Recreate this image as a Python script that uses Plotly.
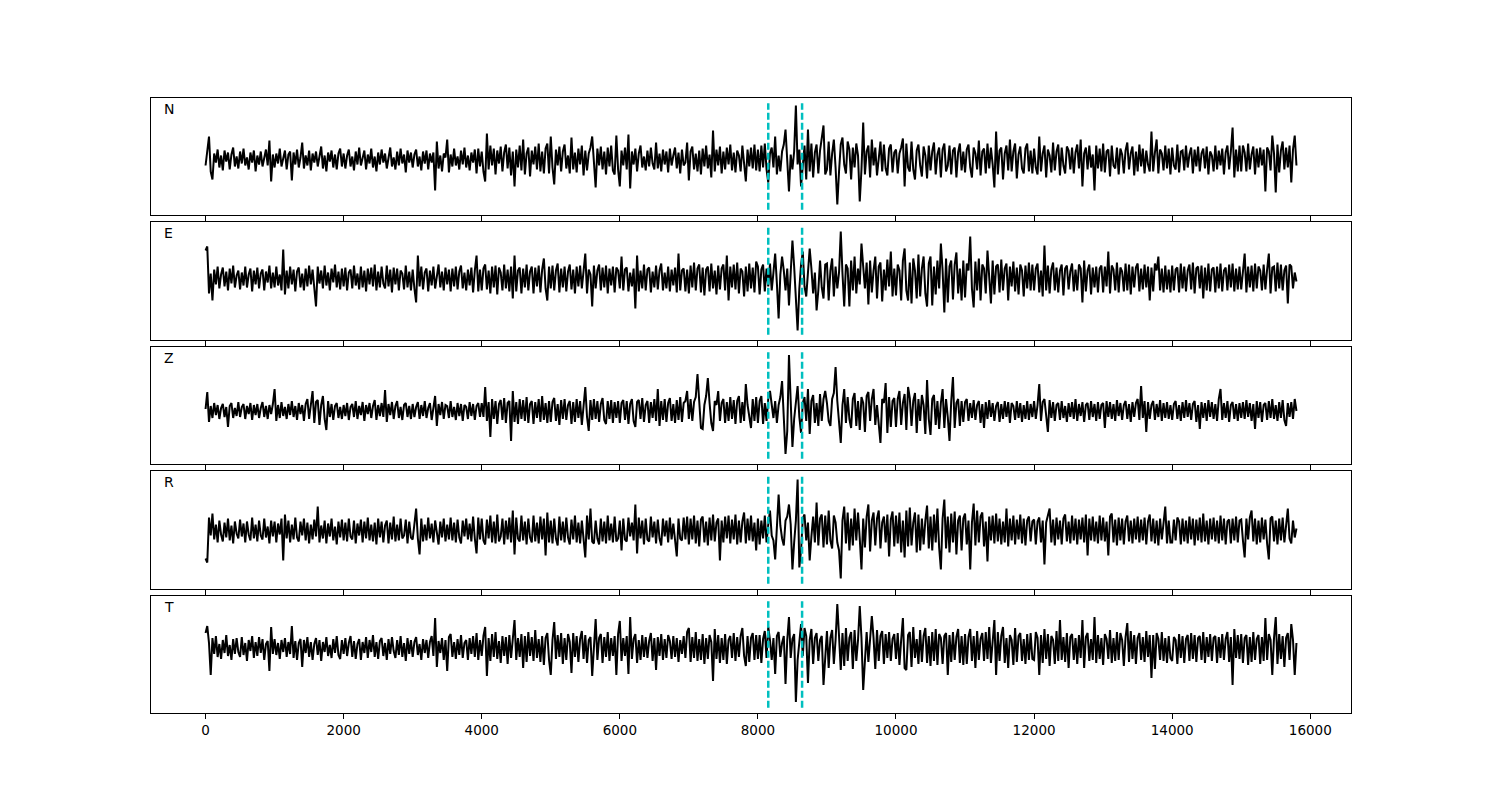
import numpy as np
import plotly.graph_objects as go

# ---------------- data (amplitudes, arbitrary units) ----------------
DT = 25
PICKS = [8150, 8640]         # dashed phase markers
COMPONENTS = ["N", "E", "Z", "R", "T"]
TICKS = [0, 2000, 4000, 6000, 8000, 10000, 12000, 14000, 16000]

N_VALUES = [
    -6, 8, 23, -12, -20, 6, -3, 10, -8, 4, -11, 9, -2, 7, -10, 5, 12, -7, 3, -9, 8, -4, 11, -6, 2, -10, 7, -3, 9, -12, 4, -5, 8, -7, 3, 10, -6, 19, -22, 5,
    -8, 6, -4, 11, -7, 3, 9, -10, 5, 8, -21, 7, -5, 10, -8, 2, 17, -9, 4, -6, 9, -11, 6, -3, 8, -7, 5, 13, -9, 4, -12, 7, -2, 9, -8, 5, -10, 6, 11, -7,
    6, -9, 4, 10, -7, 3, -11, 8, -5, 12, -6, 2, 9, -10, 5, -4, 11, -8, 3, -12, 7, -5, 10, -3, 6, -9, 4, 12, -7, 2, -10, 8, -6, 11, -4, 5, -13, 9, -3, 7,
    -8, 5, 10, -7, 3, -11, 8, -4, 9, -10, 6, -3, 7, -31, 18, -9, 4, -12, 6, 2, 20, -13, 5, -7, 11, -6, 3, -10, 9, -5, 12, -8, 4, -11, 7, -3, 10, -14, 11, -7,
    8, -12, -22, 26, -10, 14, -6, 11, -15, 9, -4, 13, -12, 7, 15, -9, 12, -16, 8, -27, 10, -8, 14, -11, 20, -15, 6, 12, -17, 9, -5, 13, -10, 16, -12, 8, -14, 11, 16, -14,
    23, -8, -25, 10, -6, 13, -12, 8, 15, -9, 4, -14, 22, -10, 7, -13, 11, -5, 14, -16, 9, -11, 6, 12, 23, -9, -28, 11, -6, 13, -10, 8, -15, 12, -7, 14, -11, -15, 24, -10,
    -27, 9, -6, 12, -10, 25, -29, 8, -5, 11, -12, 6, 14, -8, 3, -11, 9, -7, 12, -4, -10, 17, -9, 6, -12, 10, -5, 8, -13, 11, -6, 4, 12, -9, 7, -14, 10, -6, -3, 17,
    -21, 8, 13, -10, 6, -12, 9, -15, 11, -7, 14, -9, 5, -18, 29, -12, 10, -6, 13, -14, 8, -10, 12, -5, 15, -11, 7, -13, 9, 4, -12, 14, -8, -22, 10, -7, 12, -9, 15, -11,
    10, -12, 14, -8, 16, -10, -23, 6, 12, -8, 23, -15, 4, -12, 8, 15, 30, -6, -32, 5, -10, 8, 54, -5, 10, -27, -8, 14, -20, 30, -12, 16, -18, 7, 15, -14, 9, 20, 34, -15,
    -10, 18, -16, 6, 20, -8, -45, -12, 15, 22, -5, -14, 18, 10, -20, 12, -8, 16, 4, -42, -10, 37, -15, 8, 14, -18, 20, -6, 12, -16, 5, 18, -12, 15, -9, -16, 11, 15, -13, 7,
    10, -14, 6, 12, 21, -27, 16, -8, -12, 18, -10, -20, 9, 15, -6, -17, 13, 4, -19, 14, -11, 8, 17, -15, 5, 12, -18, 10, 16, -12, -6, 14, -15, 9, 12, -18, 7, 16, -11, 8,
    -13, 10, 15, -8, -18, 12, 6, -10, 19, -16, 8, 11, -14, 16, -9, 12, -5, -28, 28, -15, 9, 12, -20, 6, 14, -11, 20, -12, 8, 16, -19, 5, 13, -9, -14, 11, 16, -12, 9, -14,
    11, -8, -15, 23, -12, 6, 14, -18, 10, 4, -13, 17, -11, 8, 15, -16, 12, -6, -14, 13, 9, -10, 12, -14, 7, 15, -9, 20, -27, 6, 12, -10, 14, -8, 5, -31, 14, -9, 11, -12,
    16, -13, 8, 10, -17, 14, -6, -9, 12, -15, 11, 5, -14, 9, 17, -10, 6, 13, -16, 8, -12, 15, -7, 11, -14, 9, -5, -12, 28, -12, 7, 20, -14, 10, 6, -11, 14, -9, 11, -15,
    12, -6, -10, 15, -13, 8, 9, -11, 14, -8, 5, 12, -14, 10, -7, 13, -12, 6, 11, -9, 13, -15, 8, 4, -12, 14, -10, 9, -6, 11, -15, 7, 14, -10, 8, 32, -18, 10, -12, 14,
    -12, 14, 7, -12, 16, -10, 5, 13, -15, 11, -8, 12, -6, 10, -32, 12, 8, -11, 24, 6, -33, 15, -13, 9, 18, -10, 12, -8, 14, -23, 10, 24, -6,
]

E_VALUES = [
    28, 32, -15, 5, -22, 9, -6, 12, -10, 4, 11, -8, 7, -12, 10, -5, 13, -9, 3, 8, -11, 6, -7, 12, -9, 4, 10, -13, 8, -6, 11, -10, 5, 9, -12, 7, -4, 13, -10, 6,
    -9, 12, -7, 4, -12, 29, -16, 8, -10, 12, -6, 9, -13, 7, 11, -9, 5, -12, 10, -8, 13, -6, 9, -11, -28, 12, -5, 8, -10, 13, -7, 6, -12, 10, -4, 14, -9, 7, -11, 10,
    -8, 11, -12, 6, 9, -10, 13, -7, 5, -11, 12, -9, 8, -13, 10, -6, 11, -8, 14, -12, 7, -9, 12, -5, -10, 13, -8, 9, -14, 11, -6, 10, -12, 8, 5, -11, 13, -9, 7, -12,
    9, -10, -24, 23, -8, 12, -11, 6, 10, -13, 8, -7, 12, -10, 5, 14, -9, 7, -12, 11, -6, 9, -13, 10, -8, 12, -11, 7, 13, -10, 6, -12, 9, -7, 11, -14, 8, 23, -13, 9,
    -12, 10, 14, -11, 8, -15, 12, -9, 13, -16, 11, 6, -12, 14, -10, 9, -13, 12, -20, 23, -13, 8, 11, -15, 10, -9, 14, -12, 7, 12, -15, 11, -8, 13, -14, 9, 20, -10, -22, 12,
    -10, 13, -12, 8, 15, -14, 10, -9, 12, -13, 7, 14, -11, 9, -15, 12, -8, 13, -10, 6, 25, -15, 9, 4, -28, 13, -10, 8, 14, -12, 11, -9, 13, -15, 10, -7, 12, -14, 11, 8,
    -10, 22, -12, 9, 11, -13, 6, -8, 10, -30, 23, -13, 8, -10, 14, -12, 9, 11, -14, 7, -9, 13, -11, 8, 15, -12, 6, -10, 12, -13, 9, -7, 11, -14, 25, -12, 8, 10, -13, 9,
    -15, 13, -9, 16, -12, 10, 14, -14, 11, -17, 9, 12, -13, 15, -10, 8, -16, 13, -11, 10, 14, -12, 23, -22, 12, -9, 14, -11, 16, -15, 10, 7, -18, 12, -13, 15, -10, 11, -14, 17,
    12, -16, 9, 14, -13, 10, -8, 15, -12, 6, 25, -5, -40, 4, 22, 8, -12, 10, -27, 6, 38, 12, -15, -52, -10, 14, 27, -8, -18, 12, 30, 10, -15, 6, -32, -12, 18, -9, -20, 14,
    15, -22, 8, 20, -18, 12, -10, 6, 47, 5, -28, 14, 10, -28, 18, -12, 22, -15, 10, -6, 35, 12, -10, 16, -26, 18, -14, 8, 22, -20, 12, 16, -23, 9, -12, 19, -8, 27, -18, 10,
    -17, 14, 8, -22, 18, 30, -12, -22, 16, -25, 20, 8, -20, 24, -18, 10, 22, -15, -28, 15, 22, -27, 12, -16, 18, -10, 35, 8, -34, 20, -24, 12, 18, -21, 14, 26, -15, 10, -22, 18,
    -19, 15, 8, 42, -10, -29, 17, -12, 20, -22, 14, 10, -15, 28, 6, -25, 18, -16, 12, 14, -14, 19, -12, 10, 15, -22, 12, -8, 17, -13, 11, -16, 14, 8, -18, 13, -10, 16, -12, 14,
    -12, 10, 15, -14, 8, -18, 33, -12, 13, -15, 9, 16, -12, 11, -14, 8, 14, -17, 10, 13, -11, 7, 15, -13, 9, -12, 14, 10, -24, 18, -13, 8, 14, -16, 11, -9, 12, -14, 10, 13,
    -14, 12, -8, 27, -15, 13, 9, -12, 16, -14, 11, 7, -13, 15, -12, 14, -16, 12, -9, 11, 15, -13, 10, -11, 14, -9, 12, -22, 11, -13, 15, 8, 22, -12, 10, -14, 13, -11, 9, -14,
    13, -12, 9, 11, -14, 15, -10, 12, -13, 8, 14, -11, 16, -15, 10, 12, -10, 13, -20, 11, -12, 15, -13, 9, 11, -14, 12, -10, 15, -13, 8, 11, -12, 14, -9, 15, -13, 10, -11, 12,
    -11, 8, 25, -14, 12, -9, 13, -13, 15, -10, 12, 8, -12, 14, -11, 9, 25, -15, 11, 12, -13, 16, -10, 14, -12, 8, 13, -25, 14, 12, -10, 6, -3,
]

Z_VALUES = [
    2, 19, -11, 5, -7, 8, -4, 6, -8, 3, 7, -6, 4, -16, 5, 8, -7, 3, -5, 9, -6, 4, 7, -8, 5, -3, 8, -9, 6, -4, 7, -7, 3, 9, -6, 5, -8, 6, -3, 7,
    22, -10, 6, -7, 9, -5, 4, -8, 7, -4, 10, -6, 5, -9, 8, -3, 6, -10, 7, 12, -8, 4, 20, -12, 9, 11, -14, 6, 15, -8, -19, 10, -6, 7, -9, 5, 8, -7, 4, -8,
    6, -5, 8, -9, 4, 7, -6, 10, -8, 5, -4, 9, -10, 6, -3, 8, -7, 5, 11, -9, 6, -5, 8, -6, 21, -11, 7, -4, 9, -8, 5, 10, -7, 4, -9, 6, 8, -6, 5, -8,
    7, -6, 4, 9, -8, 6, -5, 10, -7, 3, 8, -9, 5, 15, -15, 7, -4, 9, -8, 6, 5, -7, 10, -6, 4, -9, 8, -5, 7, -10, 6, 4, -8, 9, -5, 7, -9, 5, 8, -6,
    8, -6, 24, -10, 9, -26, 12, -8, 10, -13, 7, 11, -9, 13, -12, 8, 10, -30, 20, -11, 9, -13, 12, -8, 11, -10, 14, -12, 7, 10, -13, 9, -7, 12, -11, 15, -9, 8, -12, 10,
    -11, 9, 13, -10, 7, -14, 11, -8, 12, -9, 6, 10, -13, 9, -11, 12, -7, 10, -14, 8, 24, -6, -20, 11, -9, 12, -8, 10, -11, 7, 13, -9, -13, 10, -8, 11, -12, 9, -7, 10,
    -12, 8, 11, -9, 10, -13, 7, 12, -10, -16, 9, 11, -8, 13, -11, 6, 10, -12, 9, -7, 12, -10, 22, -15, 10, -9, 12, -11, 8, 13, -10, 7, -12, 11, -9, 14, -11, 8, 10, 20,
    -8, 12, -10, 9, 14, 37, 10, -17, -18, 6, 15, 33, 8, -12, -20, 10, 6, 20, -10, 8, 12, -12, 9, -10, 14, -8, 11, -13, 10, 15, -12, 9, -10, 27, 6, -8, -17, 12, -10, 14,
    -12, 10, 15, -13, 8, -10, 12, 20, 5, -7, 10, -12, 6, 14, 30, -5, -43, -20, 56, 10, -36, -8, 12, 25, -6, -22, 8, 14, -10, 22, -23, 10, 16, -12, 8, -15, 17, -10, 12, 20,
    8, -10, -15, 12, 18, 44, 10, -14, -32, 6, 22, -12, 14, -8, -17, 12, 18, -15, 10, -19, 14, 8, -21, 15, 19, -10, 12, 22, -14, 6, -10, -32, 12, 8, 28, -22, 14, -16, 10, 13,
    -16, 12, 20, -14, 8, 17, -19, 24, 13, -15, 10, 18, -22, 12, -10, 16, 6, -23, 31, -8, -24, 12, 16, -14, 10, -18, 8, 22, -17, 12, -6, -30, 10, 34, -17, 8, 12, -15, 10, -11,
    9, 12, -10, 8, -7, 11, -9, 6, 10, -12, 7, -17, 9, -8, 11, -6, 8, -10, 5, 9, -11, 7, -8, 10, -6, 9, -12, 8, 5, -9, 10, -7, 8, -11, 6, -8, 10, -9, 7, -6,
    10, -8, 6, 27, -10, 9, 12, -8, -21, 11, -7, 9, -10, 6, 8, -9, 10, -7, 5, -11, 8, -6, 9, -8, 12, -10, 7, -5, 9, -11, 6, 8, -9, 10, -6, 7, -10, 9, -8, 6,
    8, -17, 10, -6, 9, -8, 7, -10, 11, -5, 8, -9, 6, 10, -8, 7, -11, 9, -6, 8, 12, -9, 25, -7, 10, -21, 9, -8, 6, 10, -9, 7, -6, 11, -10, 8, -7, 9, -8, 6,
    -9, 7, 10, -8, 6, -10, 9, -7, 11, -6, 8, -9, 7, 10, -11, 6, -18, 9, -7, 8, -10, 11, -6, 9, -8, 7, -10, 12, 22, -9, 8, -7, 10, -11, 6, 9, -8, 7, -10, 8,
    -7, 9, -8, 11, -6, 8, -10, 7, -18, 10, -7, 9, -11, 6, 8, -9, 10, -7, 12, -8, 6, -10, 9, -7, 11, -9, -15, 8, -6, 9, -8, 12, 0,
]

R_VALUES = [
    -28, -32, 13, -5, 17, -9, 6, -12, 10, -4, -11, 8, -7, 12, -10, 5, -13, 9, -3, -8, 11, -6, 7, -12, 9, -4, -10, 13, -8, 6, -11, 10, -5, -9, 12, -7, 4, -13, 10, -6,
    9, -12, 7, -4, 12, -30, 16, -8, 10, -12, 6, -9, 13, -7, -11, 9, -5, 12, -10, 8, -13, 6, -9, 11, -6, 24, -12, 5, -8, 10, -13, 7, -6, 12, -10, 4, -14, 9, -7, 11,
    -10, 8, -11, 12, -6, -9, 10, -13, 7, -5, 11, -12, 9, -8, 13, -10, 6, -11, 8, -14, 12, -7, 9, -12, 5, 10, -13, 8, -9, 14, -11, 6, -10, 12, -8, -5, 11, -13, 9, -7,
    -9, 10, 22, -8, -24, 12, -11, 6, -10, 13, -8, 7, -12, 10, -5, -14, 9, -7, 12, -11, 6, -9, 13, -10, 8, -12, 11, -7, -13, 10, -6, 12, -9, 7, -11, 14, -8, -23, 13, -9,
    12, -10, -14, 11, -8, 15, -12, 9, -13, 16, -11, -6, 12, -14, 10, -9, 13, -12, 20, -24, 13, -8, -11, 15, -10, 9, -14, 12, -7, -12, 15, -11, 8, -13, 14, -9, 12, -25, 18, -12,
    10, -13, 12, -8, -15, 14, -10, 9, -12, 13, -7, -14, 11, -9, 15, -12, 8, -13, 10, -6, -27, 15, -9, 22, -11, -13, 10, -8, -14, 12, -11, 9, -13, 15, -10, 7, -12, 14, -11, -8,
    10, -20, 12, -9, -11, 13, -6, 8, -10, 26, -23, 13, -8, 10, -14, 12, -9, -11, 14, -7, 9, -13, 11, -8, -15, 12, -6, 10, -12, 13, -9, 7, -11, -26, 12, -8, -10, 13, -9, 14,
    -14, 12, -9, 15, -13, 10, -16, 11, 14, -12, 9, -15, 13, -10, 16, -11, 8, 12, -30, 10, -12, 14, -8, 15, -13, 11, -9, 16, -14, 10, -12, 9, 18, -13, 12, -10, 15, -11, 8, -20,
    12, -14, 10, -8, 15, -12, 6, 20, -5, -10, -29, 8, 36, 5, -8, -15, 10, 14, 26, 6, -39, -12, 10, 51, -37, -20, 12, 16, -10, 8, -30, -6, 14, -12, 28, -15, 12, 16, -17, 15,
    -14, 20, -10, -18, 15, 8, -12, -20, -48, 10, 24, -13, 18, -20, 12, -15, 22, -10, 18, -8, -39, 12, -17, 14, 26, -21, 10, 18, -15, 12, 20, -18, 8, 14, -12, 16, -26, 11, 19, -16,
    15, -13, 18, -22, 10, -27, 20, -16, 23, -15, 8, 18, -22, 16, -20, 12, -14, 10, 25, -18, 14, -20, 16, -12, 22, -17, -39, 12, 31, -18, 14, -22, 17, -12, 19, -24, 10, 15, -20, 12,
    17, -14, 10, -39, 8, 27, -15, 20, -12, 14, 18, -16, 9, -31, 14, -10, 15, -13, 17, -11, 12, -14, 9, -12, 22, -16, 12, -10, 15, -14, 11, -9, 16, -13, 12, -15, 10, 14, -11, 9,
    11, -14, 9, 13, -12, 10, -34, 8, 14, 22, -12, 11, -15, 13, -9, 10, -14, 12, 16, -11, 9, -13, 15, -10, 12, -14, 11, -9, 13, -12, 16, -25, 12, -10, 14, -11, 9, -13, 15, -10,
    13, -11, 9, -25, 14, 17, -12, 11, -15, 13, -10, 12, -14, 9, 15, -11, 10, -13, 12, -9, 14, -12, 11, -10, 13, -14, 9, 16, -11, 12, -13, 10, -15, 12, -9, 11, 24, -13, 10, -12,
    -12, 11, -10, 13, 9, -14, 12, -11, 10, -13, 14, -9, 12, -15, 11, -10, 13, -12, 17, -11, 10, -14, 12, -9, 13, -11, 10, -13, 15, -10, 12, -14, 9, 11, -13, 12, -10, 14, -12, 10,
    11, -10, -27, 12, -9, 13, 20, -11, 12, -14, 10, -12, 13, -9, 11, -13, -29, 12, 14, -11, 10, -14, 12, -10, 13, -12, 9, 22, -8, -13, 10, -7, 2,
]

T_VALUES = [
    15, 22, 5, -27, 10, -6, 12, -9, 4, -11, 8, -5, 13, -8, 3, -12, 9, -6, 10, -4, -9, 11, -7, 5, -13, 8, -3, 12, -10, 6, -8, 11, -5, 9, -12, 4, 7, -23, 21, -6,
    9, -7, 5, -11, 8, -4, 10, -9, 6, -6, 22, -10, 7, -12, 5, 9, -19, 8, -5, 11, -9, 6, -12, 4, 10, -7, 8, -13, 6, -4, 11, -8, 3, -10, 9, -5, 12, -7, -11, 8,
    -6, 10, -8, 5, 12, -9, 7, -11, 4, 9, -12, 6, -5, 11, -10, 8, -4, 13, -9, 6, -11, 7, 10, -8, 5, -12, 9, -6, 11, -3, -10, 8, -7, 12, -9, 5, -13, 10, -6, 8,
    -9, 6, 11, -7, 4, -12, 9, -5, 8, -10, 6, 12, -8, 30, -19, 7, -5, 10, -12, 8, -23, 11, 14, -9, 6, -11, 9, -7, 13, -10, 5, 8, -12, 10, -6, 12, -9, 15, -12, 8,
    -8, 12, 21, -28, 10, -13, 14, -9, 16, -11, 7, -15, 12, -8, 11, -16, 13, -10, 9, 28, -12, 10, -9, 14, -20, 12, -14, 16, -8, 11, -13, 18, -10, 9, -14, 12, -17, 10, 15, -12,
    -27, 8, 26, -11, 13, -9, 15, -16, 10, -12, 14, 6, -25, 15, -9, 12, -14, 9, 17, -11, 13, -15, 8, 11, -28, 6, 29, -12, 10, 14, -15, 11, -9, 16, -13, 10, -8, 12, -27, 14,
    27, -13, 10, -8, 12, -26, 31, -11, 9, 14, -15, 8, -12, 13, -9, 11, -10, 7, 15, -13, 10, -22, 11, -8, 14, -12, 9, -10, 13, 7, -11, 12, -9, 10, -14, 8, -6, 12, -10, 16,
    20, -14, 11, -10, 16, -13, 9, -12, 14, -16, 10, -11, 13, 6, -33, 19, -11, 13, -15, 10, -12, 14, -16, 8, 12, -10, 15, -13, 11, -9, 12, 20, -8, -18, 12, -14, 10, 15, -12, 13,
    -11, 13, -15, 9, 17, -10, 21, 8, -12, 10, -26, 12, 16, -9, 5, 12, -36, 8, 31, -10, 9, 14, -54, -12, 10, 24, -8, 20, 12, -35, 8, 19, -16, 10, 15, -13, 8, 12, -37, -10,
    17, -20, 10, 18, -16, 8, 44, 12, -22, 15, -18, 20, -13, 10, 16, -21, 18, -13, 8, 42, 10, -42, -12, 16, -14, 8, 32, 10, -21, 18, -13, 12, 17, -16, 14, -10, 16, -13, 9, 14,
    -11, 15, -17, 8, 30, -20, -22, 13, 16, -19, 21, -10, 9, -16, 18, -14, 12, 20, -15, 12, -18, 16, -13, 19, -17, 14, 10, -16, 12, 15, -27, 13, -14, 16, -12, 11, 19, -15, 12, -17,
    14, -16, 11, 19, -13, 12, -20, 17, -12, 9, 15, -13, 16, -11, 21, -15, 10, 28, -27, 16, -13, 12, 21, -15, 10, -20, 13, 8, -17, 20, -14, 12, 15, -13, 9, -16, 14, -12, 15, -11,
    -12, 16, 10, -27, 13, -15, 19, -11, 14, -18, 12, 8, -16, 17, -13, 28, -12, 11, -14, 15, -20, 11, 14, -12, 10, -16, 13, -10, 28, -20, 11, 15, -13, 9, -12, 31, -15, 13, -11, 10,
    -17, 14, 9, -11, 18, -15, 10, -13, 16, -12, 15, 8, -18, 11, 25, -14, 17, -11, 13, -16, 10, 15, -12, 11, -14, 17, -9, 13, -30, 13, -21, 15, 9, -12, 16, -13, 10, -15, 12, -10,
    -13, 11, 8, -16, 14, -10, 12, -15, 9, 13, -13, 15, -11, 13, -14, 10, 12, -12, 16, -15, 11, -9, 14, -13, 10, 12, -15, 11, -10, 14, -12, 9, 16, -14, 11, -37, 19, -10, 13, -11,
    14, -15, 10, 13, -17, 11, -14, 16, -12, 9, 13, -16, 11, -13, 30, -12, 14, 8, -27, 10, 31, -16, 14, -11, 12, -19, 10, 15, -12, 24, 8, -27, 5,
]

SERIES = [N_VALUES, E_VALUES, Z_VALUES, R_VALUES, T_VALUES]

# ---------------- layout ----------------
W, H = 1500, 800
M_L, M_R, M_T, M_B = 143, 157, 90, 95
PLOT_TOP, PLOT_BOT = M_T, H - M_B
PLOT_H = PLOT_BOT - PLOT_TOP
PANEL_PX = [(90, 207), (214, 332), (339, 456), (463, 581), (588, 705)]
Y_RANGES = [(-55.5, 61.5), (-61.5, 56.5), (-53, 64), (-58.5, 59.5), (-65, 52)]
X_RANGE = [-790, 16590]

fig = go.Figure()
layout = dict(
    width=W, height=H,
    margin=dict(l=M_L, r=M_R, t=M_T, b=M_B),
    paper_bgcolor="white", plot_bgcolor="white",
    showlegend=False,
    font=dict(family="DejaVu Sans", size=14, color="black"),
)
shapes, annotations = [], []

for k, (name, vals) in enumerate(zip(COMPONENTS, SERIES)):
    sfx = "" if k == 0 else str(k + 1)
    t = np.arange(len(vals)) * DT
    fig.add_trace(go.Scatter(
        x=t, y=vals, mode="lines",
        line=dict(color="black", width=2),
        xaxis="x" + sfx, yaxis="y" + sfx, hoverinfo="skip",
    ))
    top, bot = PANEL_PX[k]
    dom = [(PLOT_BOT - bot) / PLOT_H, (PLOT_BOT - top) / PLOT_H]
    last = k == len(COMPONENTS) - 1
    layout["xaxis" + sfx] = dict(
        domain=[0, 1], anchor="y" + sfx, range=X_RANGE,
        showgrid=False, zeroline=False,
        showline=True, mirror=True, linecolor="black", linewidth=1,
        ticks="outside", ticklen=5, tickwidth=1, tickcolor="black",
        tickvals=TICKS, ticktext=[str(v) for v in TICKS],
        showticklabels=last,
        tickfont=dict(family="DejaVu Sans", size=13.5, color="black"),
    )
    if k > 0:
        layout["xaxis" + sfx]["matches"] = "x"
    layout["yaxis" + sfx] = dict(
        domain=dom, anchor="x" + sfx, range=list(Y_RANGES[k]),
        showgrid=False, zeroline=False, showticklabels=False, ticks="",
        showline=True, mirror=True, linecolor="black", linewidth=1,
    )
    for p in PICKS:
        shapes.append(dict(
            type="line", xref="x" + sfx, yref="y" + sfx + " domain",
            x0=p, x1=p, y0=0.045, y1=0.955,
            line=dict(color="#00BFBF", width=2.5, dash="7px,3px"),
            layer="above",
        ))
    annotations.append(dict(
        text=name, xref="x" + sfx + " domain", yref="y" + sfx + " domain",
        x=0.009, y=0.905, xanchor="left", yanchor="middle", showarrow=False,
        font=dict(family="DejaVu Sans", size=14, color="black"),
    ))

layout["shapes"] = shapes
layout["annotations"] = annotations
fig.update_layout(**layout)
fig.write_html("out.html")
